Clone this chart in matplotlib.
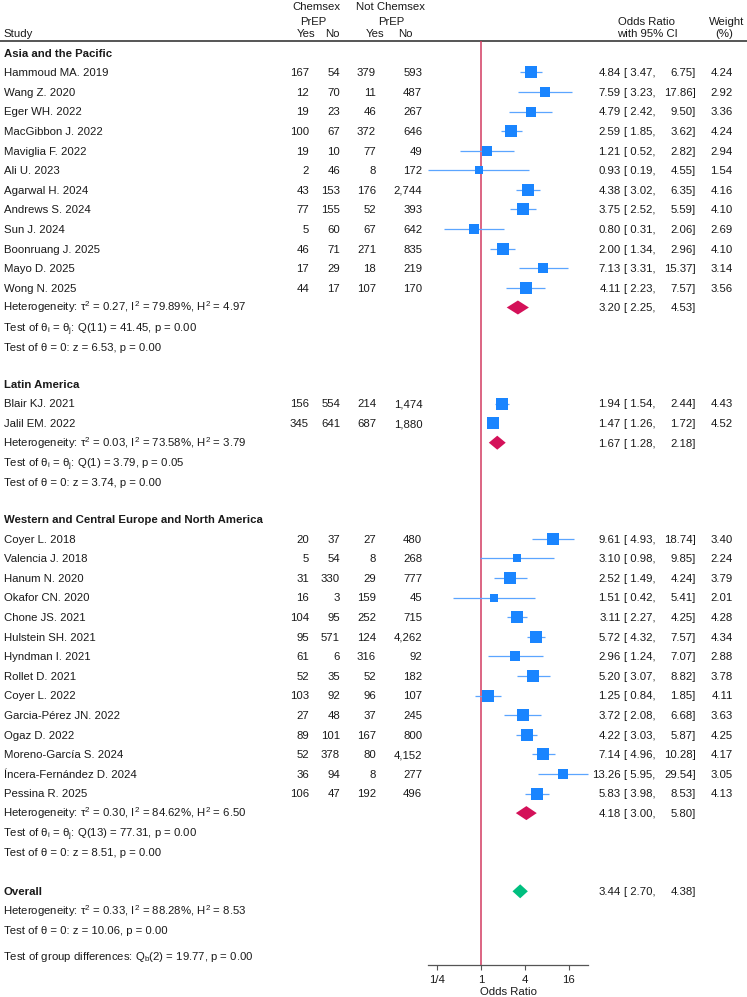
import numpy as np
import matplotlib
matplotlib.use('Agg')
import matplotlib.pyplot as plt
from matplotlib.patches import Polygon
from matplotlib.ticker import FixedLocator, FixedFormatter, NullLocator

plt.rcParams['font.family'] = ['Liberation Sans', 'DejaVu Sans']
plt.rcParams['mathtext.fontset'] = 'custom'
plt.rcParams['mathtext.rm'] = 'Liberation Sans'
plt.rcParams['mathtext.it'] = 'Liberation Sans:italic'
plt.rcParams['mathtext.bf'] = 'Liberation Sans:bold'

# ---------------- data ----------------
group_names = ["Asia and the Pacific", "Latin America",
               "Western and Central Europe and North America"]

asia_studies = ["Hammoud MA. 2019", "Wang Z. 2020", "Eger WH. 2022", "MacGibbon J. 2022",
                "Maviglia F. 2022", "Ali U. 2023", "Agarwal H. 2024", "Andrews S. 2024",
                "Sun J. 2024", "Boonruang J. 2025", "Mayo D. 2025", "Wong N. 2025"]
asia_chem_yes = [167, 12, 19, 100, 19, 2, 43, 77, 5, 46, 17, 44]
asia_chem_no = [54, 70, 23, 67, 10, 46, 153, 155, 60, 71, 29, 17]
asia_not_yes = [379, 11, 46, 372, 77, 8, 176, 52, 67, 271, 18, 107]
asia_not_no = [593, 487, 267, 646, 49, 172, 2744, 393, 642, 835, 219, 170]
asia_or = [4.84, 7.59, 4.79, 2.59, 1.21, 0.93, 4.38, 3.75, 0.80, 2.00, 7.13, 4.11]
asia_lo = [3.47, 3.23, 2.42, 1.85, 0.52, 0.19, 3.02, 2.52, 0.31, 1.34, 3.31, 2.23]
asia_hi = [6.75, 17.86, 9.50, 3.62, 2.82, 4.55, 6.35, 5.59, 2.06, 2.96, 15.37, 7.57]
asia_wt = [4.24, 2.92, 3.36, 4.24, 2.94, 1.54, 4.16, 4.10, 2.69, 4.10, 3.14, 3.56]

latam_studies = ["Blair KJ. 2021", "Jalil EM. 2022"]
latam_chem_yes = [156, 345]
latam_chem_no = [554, 641]
latam_not_yes = [214, 687]
latam_not_no = [1474, 1880]
latam_or = [1.94, 1.47]
latam_lo = [1.54, 1.26]
latam_hi = [2.44, 1.72]
latam_wt = [4.43, 4.52]

west_studies = ["Coyer L. 2018", "Valencia J. 2018", "Hanum N. 2020", "Okafor CN. 2020",
                "Chone JS. 2021", "Hulstein SH. 2021", "Hyndman I. 2021", "Rollet D. 2021",
                "Coyer L. 2022", "Garcia-Pérez JN. 2022", "Ogaz D. 2022",
                "Moreno-García S. 2024", "Íncera-Fernández D. 2024", "Pessina R. 2025"]
west_chem_yes = [20, 5, 31, 16, 104, 95, 61, 52, 103, 27, 89, 52, 36, 106]
west_chem_no = [37, 54, 330, 3, 95, 571, 6, 35, 92, 48, 101, 378, 94, 47]
west_not_yes = [27, 8, 29, 159, 252, 124, 316, 52, 96, 37, 167, 80, 8, 192]
west_not_no = [480, 268, 777, 45, 715, 4262, 92, 182, 107, 245, 800, 4152, 277, 496]
west_or = [9.61, 3.10, 2.52, 1.51, 3.11, 5.72, 2.96, 5.20, 1.25, 3.72, 4.22, 7.14, 13.26, 5.83]
west_lo = [4.93, 0.98, 1.49, 0.42, 2.27, 4.32, 1.24, 3.07, 0.84, 2.08, 3.03, 4.96, 5.95, 3.98]
west_hi = [18.74, 9.85, 4.24, 5.41, 4.25, 7.57, 7.07, 8.82, 1.85, 6.68, 5.87, 10.28, 29.54, 8.53]
west_wt = [3.40, 2.24, 3.79, 2.01, 4.28, 4.34, 2.88, 3.78, 4.11, 3.63, 4.25, 4.17, 3.05, 4.13]

group_or = [3.20, 1.67, 4.18]
group_lo = [2.25, 1.28, 3.00]
group_hi = [4.53, 2.18, 5.80]
group_tau2 = [0.27, 0.03, 0.30]
group_I2 = [79.89, 73.58, 84.62]
group_H2 = [4.97, 3.79, 6.50]
group_Qdf = [11, 1, 13]
group_Q = [41.45, 3.79, 77.31]
group_Qp = [0.00, 0.05, 0.00]
group_z = [6.53, 3.74, 8.51]
group_zp = [0.00, 0.00, 0.00]

overall_or, overall_lo, overall_hi = 3.44, 2.70, 4.38
overall_tau2, overall_I2, overall_H2 = 0.33, 88.28, 8.53
overall_z, overall_zp = 10.06, 0.00
groupdiff_df, groupdiff_Q, groupdiff_p = 2, 19.77, 0.00

xticks = [0.25, 1, 4, 16]
xtick_labels = ["1/4", "1", "4", "16"]

groups = [
    (asia_studies, asia_chem_yes, asia_chem_no, asia_not_yes, asia_not_no, asia_or, asia_lo, asia_hi, asia_wt),
    (latam_studies, latam_chem_yes, latam_chem_no, latam_not_yes, latam_not_no, latam_or, latam_lo, latam_hi, latam_wt),
    (west_studies, west_chem_yes, west_chem_no, west_not_yes, west_not_no, west_or, west_lo, west_hi, west_wt),
]

# ---------------- layout ----------------
W, H = 747, 997
fig = plt.figure(figsize=(W / 100, H / 100), dpi=100)
bg = fig.add_axes([0, 0, 1, 1])
bg.set_xlim(0, W)
bg.set_ylim(H, 0)
bg.axis('off')

FS = 8.2
TXT = '#1a1a1a'
BLUE = '#1a85ff'
CI_BLUE = '#5ba5ff'
RED = '#d41159'
GREEN = '#00bf7f'
BASE = 3.9   # baseline offset from visual row centre (px)

STEP = 19.6
AX_TOP, AX_BOT = 41, 965

all_lo = asia_lo + latam_lo + west_lo
all_hi = asia_hi + latam_hi + west_hi
X_LEFT_PX, X_RIGHT_PX = 428.3, 588.4
fx = fig.add_axes([X_LEFT_PX / W, (H - AX_BOT) / H, (X_RIGHT_PX - X_LEFT_PX) / W, (AX_BOT - AX_TOP) / H])
fx.patch.set_alpha(0)
fx.set_xscale('log', base=2)
fx.set_xlim(min(all_lo), max(all_hi))
fx.set_ylim(AX_BOT, AX_TOP)
for s in ['top', 'right', 'left']:
    fx.spines[s].set_visible(False)
fx.spines['bottom'].set_color('#555555')
fx.spines['bottom'].set_linewidth(0.9)
fx.yaxis.set_major_locator(NullLocator())
fx.xaxis.set_major_locator(FixedLocator(xticks))
fx.xaxis.set_major_formatter(FixedFormatter(xtick_labels))
fx.xaxis.set_minor_locator(NullLocator())
fx.tick_params(axis='x', length=3.5, width=0.8, color='#555555', labelsize=FS, labelcolor=TXT, pad=3.8)
fx.set_xlabel("Odds Ratio", fontsize=FS, color=TXT, labelpad=1.6)
fx.axvline(1, color='#d23a60', lw=1.1, zorder=1)

# header
def t(x, y, s, ha='left', bold=False, **kw):
    bg.text(x, y + BASE, s, ha=ha, va='baseline', fontsize=FS, color=TXT,
            fontweight='bold' if bold else 'normal', **kw)

t(3.5, 33, "Study")
t(316, 6, "Chemsex", ha='center')
t(390, 6, "Not Chemsex", ha='center')
t(313, 21, "PrEP", ha='center')
t(391, 21, "PrEP", ha='center')
t(306, 33, "Yes", ha='center')
t(332, 33, "No", ha='center')
t(375.5, 33, "Yes", ha='center')
t(405, 33, "No", ha='center')
t(647, 21, "Odds Ratio", ha='center')
t(647, 33, "with 95% CI", ha='center')
t(727, 21, "Weight", ha='center')
t(724, 33, "(%)", ha='center')
bg.plot([0, W], [41, 41], color='#555555', lw=1.4, solid_capstyle='butt')

COLS = [309, 340, 376, 422.3]
X_OR, X_BR, X_HI, X_WT = 620.7, 623.8, 695.6, 732.7
X_MATH = 2.6  # mathtext strings carry a small left bearing

def ci_text(y, o, l, h, w=None):
    t(X_OR, y, f"{o:.2f}", ha='right')
    t(X_BR, y, f"[ {l:.2f},", ha='left')
    t(X_HI, y, f"{h:.2f}]", ha='right')
    if w is not None:
        t(X_WT, y, f"{w:.2f}", ha='right')

def diamond(y, o, l, h, color, hh=7.0):
    poly = Polygon([(l, y), (o, y - hh), (h, y), (o, y + hh)], closed=True,
                   facecolor=color, edgecolor='none', zorder=4, clip_on=False)
    fx.add_patch(poly)

y = 52.7
for gi, g in enumerate(groups):
    names, cy, cn, ny, nn, ors, los, his, wts = g
    t(3.5, y, group_names[gi], bold=True)
    y += STEP
    for k in range(len(names)):
        t(3.5, y, names[k])
        for cx, val in zip(COLS, [cy[k], cn[k], ny[k], nn[k]]):
            t(cx, y, f"{val:,}", ha='right')
        ci_text(y, ors[k], los[k], his[k], wts[k])
        fx.plot([los[k], his[k]], [y, y], color=CI_BLUE, lw=0.9, zorder=2, clip_on=False,
                solid_capstyle='butt')
        side_pt = 6.0 * np.sqrt(wts[k]) * 0.72
        fx.scatter([ors[k]], [y], marker='s', s=side_pt ** 2, color=BLUE, linewidths=0,
                   zorder=3, clip_on=False)
        y += STEP
    t(X_MATH, y, rf"Heterogeneity: τ$^2$ = {group_tau2[gi]:.2f}, I$^2$ = {group_I2[gi]:.2f}%, H$^2$ = {group_H2[gi]:.2f}")
    ci_text(y, group_or[gi], group_lo[gi], group_hi[gi])
    diamond(y, group_or[gi], group_lo[gi], group_hi[gi], RED)
    y += STEP
    t(X_MATH, y + 0.8, rf"Test of θ$_\mathrm{{i}}$ = θ$_\mathrm{{j}}$: Q({group_Qdf[gi]}) = {group_Q[gi]:.2f}, p = {group_Qp[gi]:.2f}")
    y += STEP
    t(3.5, y, f"Test of θ = 0: z = {group_z[gi]:.2f}, p = {group_zp[gi]:.2f}")
    y += 37.2 if gi < len(groups) - 1 else 39.0

t(3.5, y, "Overall", bold=True)
ci_text(y, overall_or, overall_lo, overall_hi)
diamond(y, overall_or, overall_lo, overall_hi, GREEN)
y += STEP
t(X_MATH, y, rf"Heterogeneity: τ$^2$ = {overall_tau2:.2f}, I$^2$ = {overall_I2:.2f}%, H$^2$ = {overall_H2:.2f}")
y += STEP
t(3.5, y, f"Test of θ = 0: z = {overall_z:.2f}, p = {overall_zp:.2f}")
y += 25.5
t(X_MATH, y, rf"Test of group differences: Q$_\mathrm{{b}}$({groupdiff_df}) = {groupdiff_Q:.2f}, p = {groupdiff_p:.2f}")

fig.savefig("out.png", dpi=100, facecolor='white')
